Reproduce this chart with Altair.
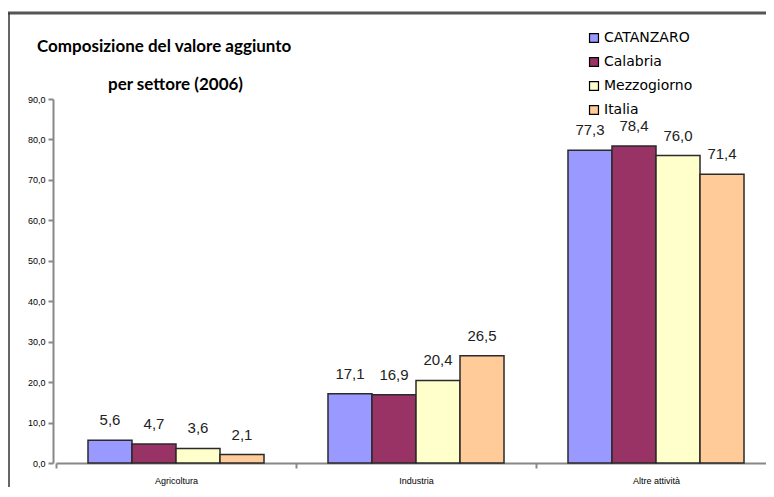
import altair as alt
import pandas as pd

sectors = ["Agricoltura", "Industria", "Altre attività"]
areas = ["CATANZARO", "Calabria", "Mezzogiorno", "Italia"]
catanzaro = [5.6, 17.1, 77.3]
calabria = [4.7, 16.9, 78.4]
mezzogiorno = [3.6, 20.4, 76.0]
italia = [2.1, 26.5, 71.4]
colors = ["#9999FF", "#993366", "#FFFFCC", "#FFCC99"]
title_lines = ["Composizione del valore aggiunto", "per settore (2006)"]

rows = []
for area, vals in zip(areas, [catanzaro, calabria, mezzogiorno, italia]):
    for s, v in zip(sectors, vals):
        rows.append({"settore": s, "area": area, "valore": v,
                     "label": f"{v:.1f}".replace(".", ",")})
df = pd.DataFrame(rows)

x_enc = alt.X("settore:N", sort=sectors, title=None,
              scale=alt.Scale(range=[3, 723], paddingInner=0, paddingOuter=0),
              axis=alt.Axis(labelAngle=0, tickBand="extent", domainColor="#888888",
                            domainWidth=2, tickColor="#888888", tickWidth=2, tickSize=5,
                            labelFont="Liberation Sans", labelFontSize=9, labelColor="#000000",
                            labelPadding=8))
xo_enc = alt.XOffset("area:N", sort=areas,
                     scale=alt.Scale(paddingOuter=0.727, paddingInner=0))
y_enc = alt.Y("valore:Q", title=None,
              scale=alt.Scale(domain=[0, 90], nice=False),
              axis=alt.Axis(values=list(range(0, 91, 10)), grid=False,
                            labelExpr="replace(format(datum.value, '.1f'), '.', ',')",
                            domainColor="#888888", domainWidth=2, tickColor="#888888",
                            tickWidth=2, tickSize=5, labelFont="Liberation Sans",
                            labelFontSize=9, labelColor="#000000", labelPadding=3))

base = alt.Chart(df)
bars = base.mark_bar(stroke="#2a2a2a", strokeWidth=1.5).encode(
    x=x_enc, xOffset=xo_enc, y=y_enc,
    color=alt.Color("area:N", sort=areas,
                    scale=alt.Scale(domain=areas, range=colors),
                    legend=alt.Legend(title=None, orient="none", legendX=534, legendY=-68,
                                      symbolType="square", symbolSize=80,
                                      symbolStrokeColor="#000000", symbolStrokeWidth=1.2,
                                      labelFont="DejaVu Sans", labelFontSize=14,
                                      labelColor="#000000", rowPadding=10, padding=0,
                                      labelOffset=3)),
)
labels = base.mark_text(baseline="middle", dy=-20, font="Liberation Sans",
                        fontSize=15, color="#222222").encode(
    x=alt.X("settore:N", sort=sectors), xOffset=alt.XOffset("area:N", sort=areas),
    y="valore:Q", text="label:N",
)

dummy = alt.Data(values=[{}])
t1 = alt.Chart(dummy).mark_text(text=title_lines[0], align="left", baseline="middle",
                                font="Lato", fontWeight="bold", fontSize=17,
                                color="#000000").encode(x=alt.value(-16), y=alt.value(-52))
t2 = alt.Chart(dummy).mark_text(text=title_lines[1], align="left", baseline="middle",
                                font="Lato", fontWeight="bold", fontSize=17,
                                color="#000000").encode(x=alt.value(55), y=alt.value(-14))
frame_top = alt.Chart(dummy).mark_rule(color="#555555", strokeWidth=3).encode(
    x=alt.value(-45), x2=alt.value(740), y=alt.value(-86))
frame_left = alt.Chart(dummy).mark_rule(color="#333333", strokeWidth=1.5).encode(
    x=alt.value(-44), y=alt.value(-86), y2=alt.value(420))

chart = alt.layer(frame_top, frame_left, bars, labels, t1, t2).resolve_scale(
    x="shared").properties(
    width=713, height=364,
    autosize=alt.AutoSizeParams(type="none"),
    padding={"left": 45, "top": 91, "right": 0, "bottom": 24},
).configure_view(stroke=None)

chart.save("out.html", embed_options={"renderer": "svg", "actions": False})
